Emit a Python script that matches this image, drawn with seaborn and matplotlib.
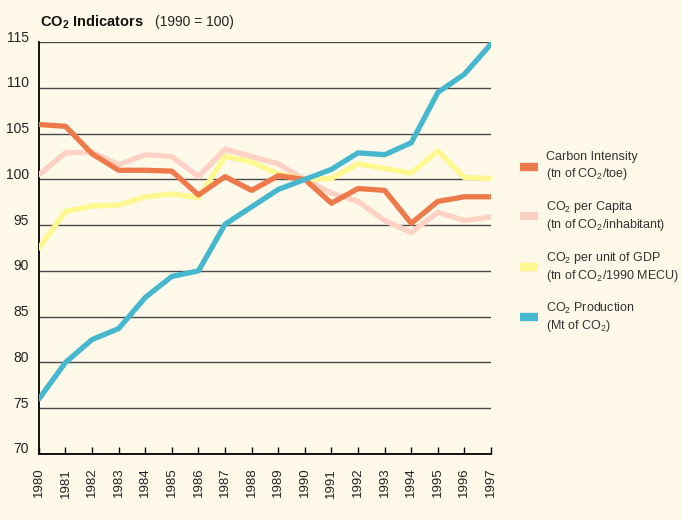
import pandas as pd
import matplotlib.pyplot as plt
import matplotlib.transforms as mtransforms
from matplotlib.lines import Line2D
import seaborn as sns

# data (1990 = 100)
years = list(range(1980, 1998))
carbon_intensity = [106.0, 105.8, 102.8, 101.0, 101.0, 100.9, 98.3, 100.3, 98.8, 100.4,
                    100.0, 97.4, 99.0, 98.8, 95.2, 97.6, 98.1, 98.1]
per_capita = [100.5, 102.9, 103.0, 101.6, 102.7, 102.5, 100.3, 103.3, 102.5, 101.7,
              100.0, 98.5, 97.6, 95.5, 94.2, 96.4, 95.5, 95.9]
per_gdp = [92.5, 96.5, 97.1, 97.2, 98.1, 98.4, 98.0, 102.5, 101.9, 100.6,
           100.0, 100.1, 101.7, 101.2, 100.7, 103.1, 100.2, 100.1]
production = [76.0, 80.0, 82.5, 83.7, 87.1, 89.4, 90.0, 95.1, 97.0, 98.9,
              100.0, 101.1, 102.9, 102.7, 104.0, 109.5, 111.5, 114.8]

series_names = ['CO2 per Capita', 'CO2 per unit of GDP', 'Carbon Intensity', 'CO2 Production']
series_vals = [per_capita, per_gdp, carbon_intensity, production]
colors = {'Carbon Intensity': '#EE7A4B', 'CO2 per Capita': '#FDD2C4',
          'CO2 per unit of GDP': '#FFF78F', 'CO2 Production': '#45B7CE'}

df = pd.concat([pd.DataFrame({'Year': years, 'Value': v, 'Series': n})
                for n, v in zip(series_names, series_vals)])

bg = '#FEF9E8'
sns.set_theme(style='white')
plt.rcParams['font.family'] = ['Liberation Sans', 'DejaVu Sans']
plt.rcParams['mathtext.fontset'] = 'custom'
plt.rcParams['mathtext.rm'] = 'Liberation Sans'
plt.rcParams['mathtext.bf'] = 'Liberation Sans:bold'

fig = plt.figure(figsize=(6.82, 5.2), dpi=100, facecolor=bg)
ax = fig.add_axes([0.057, 0.127, 0.663, 0.792], facecolor=bg)

for y in range(75, 120, 5):
    ax.axhline(y, color='#4a4a4a', lw=1.0, zorder=1)

sns.lineplot(data=df, x='Year', y='Value', hue='Series', hue_order=series_names,
             palette=colors, linewidth=3.8, legend=False, ax=ax, zorder=3)

ax.set_xlim(1980, 1997)
ax.set_ylim(70, 115)
ax.set_xticks(years)
ax.set_xticklabels([str(y) for y in years], rotation=90, fontsize=9.5, color='#222222')
ax.set_yticks(range(70, 120, 5))
ax.set_yticklabels([str(y) for y in range(70, 120, 5)], fontsize=10, color='#222222')
ax.tick_params(axis='x', direction='in', length=5, width=1, color='black', pad=10, bottom=True)
ax.tick_params(axis='y', length=0, pad=7)
offset = mtransforms.ScaledTranslation(0, 6 / 100, fig.dpi_scale_trans)
for lab in ax.get_yticklabels():
    lab.set_transform(lab.get_transform() + offset)
ax.set_xlabel('')
ax.set_ylabel('')
for s in ['top', 'right']:
    ax.spines[s].set_visible(False)
for s in ['left', 'bottom']:
    ax.spines[s].set_color('black')
    ax.spines[s].set_linewidth(1.3)

title = fig.text(0.059, 0.958, r'CO$_\mathbf{2}$ Indicators', fontsize=10.5, fontweight='bold',
                 va='center', color='#111111')
fig.canvas.draw()
ax.annotate('(1990 = 100)', xy=(1, 0.5), xycoords=title, xytext=(8, 0),
            textcoords='offset points', fontsize=10, va='center', color='#222222',
            annotation_clip=False)

handles = [Line2D([0], [0], color=colors[n], lw=6, solid_capstyle='butt')
           for n in ['Carbon Intensity', 'CO2 per Capita', 'CO2 per unit of GDP', 'CO2 Production']]
labels = ['Carbon Intensity\n(tn of CO$_2$/toe)',
          'CO$_2$ per Capita\n(tn of CO$_2$/inhabitant)',
          'CO$_2$ per unit of GDP\n(tn of CO$_2$/1990 MECU)',
          'CO$_2$ Production\n(Mt of CO$_2$)']
fig.legend(handles, labels, loc='upper left', bbox_to_anchor=(0.757, 0.716),
           frameon=False, fontsize=9, handlelength=1.4, handletextpad=0.7,
           labelspacing=1.35, labelcolor='#333333', borderaxespad=0, borderpad=0.3)

fig.savefig('out.png', dpi=100, facecolor=bg)
